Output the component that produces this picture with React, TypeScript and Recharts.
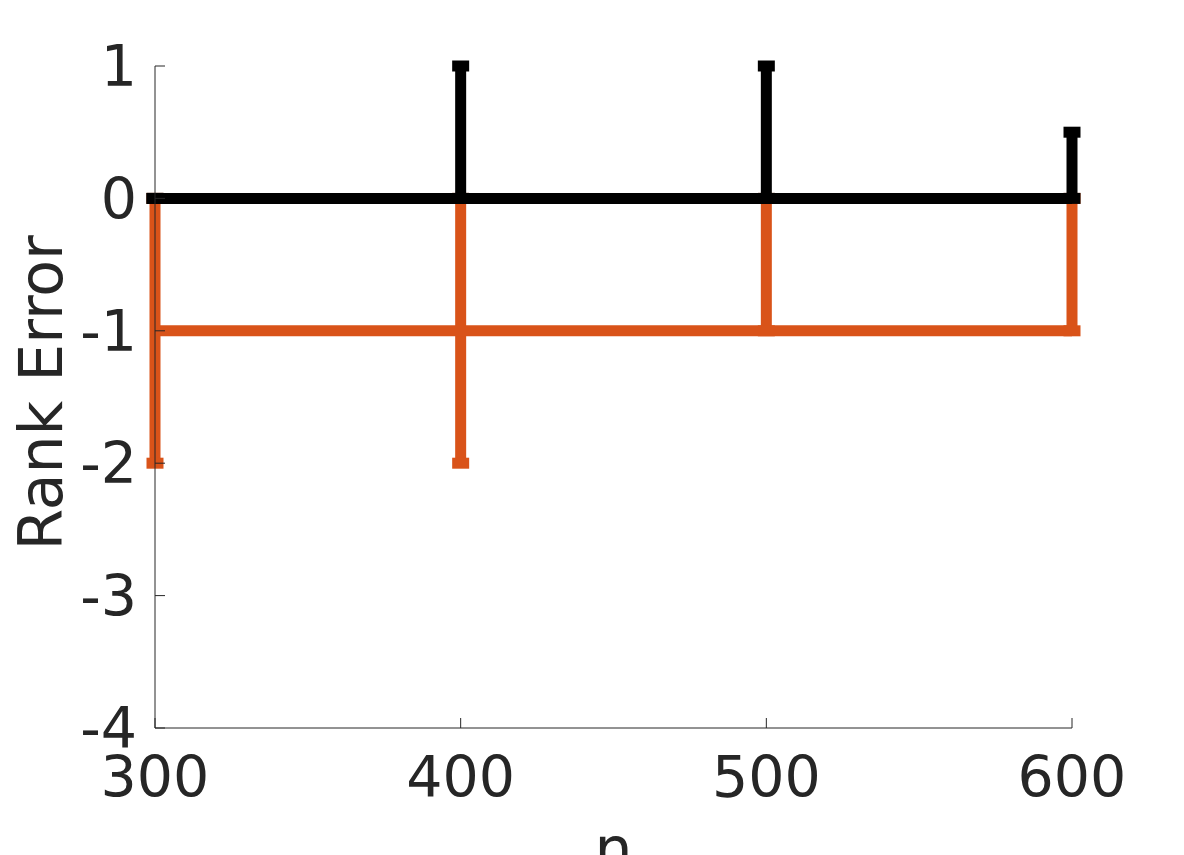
import { ComposedChart, Line, XAxis, YAxis, ErrorBar, Label } from 'recharts'

const nValues = [300, 400, 500, 600]
const methodA = [0, 0, 0, 0]
const methodAErr = [
    [0, 0],
    [0, 1],
    [0, 1],
    [0, 0.5],
]
const methodB = [-1, -1, -1, -1]
const methodBErr = [
    [1, 1],
    [1, 1],
    [0, 1],
    [0, 1],
]
const xTicks = [300, 400, 500, 600]
const yTicks = [-4, -3, -2, -1, 0, 1]

const data = nValues.map((n, i) => ({
    n,
    a: methodA[i],
    aErr: methodAErr[i],
    b: methodB[i],
    bErr: methodBErr[i],
}))

const axisColor = '#262626'
const font = 'DejaVu Sans'

export default function App() {
    return (
        <div style={{ position: 'absolute', left: 0, top: 0, width: 1184, height: 855, background: '#fff', overflow: 'hidden' }}>
            <ComposedChart width={1184} height={855} data={data} margin={{ top: 66, right: 112, bottom: 0, left: 0 }}>
                <XAxis
                    dataKey="n"
                    type="number"
                    domain={[300, 600]}
                    ticks={xTicks}
                    height={127}
                    stroke={axisColor}
                    tick={{ fill: axisColor, fontSize: 57, fontFamily: font }}
                    tickSize={-10}
                    tickMargin={39}
                    interval={0}
                >
                    <Label
                        value="n"
                        position="insideBottom"
                        offset={-15}
                        style={{ fill: axisColor, fontSize: 60, fontFamily: font }}
                    />
                </XAxis>
                <YAxis
                    type="number"
                    domain={[-4, 1]}
                    ticks={yTicks}
                    width={155}
                    stroke={axisColor}
                    tick={{ fill: axisColor, fontSize: 57, fontFamily: font }}
                    tickSize={-10}
                    tickMargin={28}
                    interval={0}
                >
                    <Label
                        content={(props: any) => {
                            const vb = props.viewBox || { x: 0, y: 66, width: 155, height: 662 }
                            const cy = vb.y + vb.height / 2 - 4
                            return (
                                <text
                                    x={62}
                                    y={cy}
                                    transform={`rotate(-90, 62, ${cy})`}
                                    textAnchor="middle"
                                    fill={axisColor}
                                    fontSize={60}
                                    fontFamily={font}
                                >
                                    Rank Error
                                </text>
                            )
                        }}
                    />
                </YAxis>
                <Line dataKey="b" stroke="#D95319" strokeWidth={11} dot={false} isAnimationActive={false} type="linear">
                    <ErrorBar dataKey="bErr" direction="y" width={8.5} stroke="#D95319" strokeWidth={11} />
                </Line>
                <Line dataKey="a" stroke="#000000" strokeWidth={11} dot={false} isAnimationActive={false} type="linear">
                    <ErrorBar dataKey="aErr" direction="y" width={8.5} stroke="#000000" strokeWidth={11} />
                </Line>
            </ComposedChart>
        </div>
    )
}
